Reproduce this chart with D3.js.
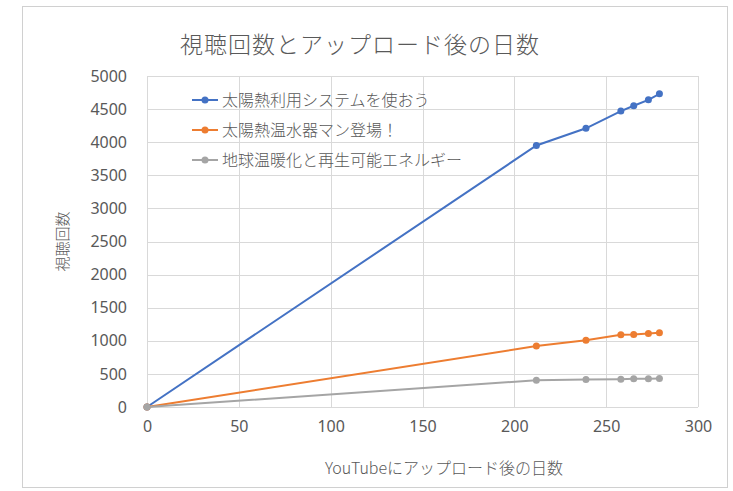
<!DOCTYPE html>
<html>
<head>
<meta charset="utf-8">
<script src="https://cdn.jsdelivr.net/npm/d3@7"></script>
<style>
  body { margin: 0; background: #fff; }
  svg text { font-family: "Noto Sans CJK JP", "Noto Sans", sans-serif; fill: #595959; font-weight: 300; }
</style>
</head>
<body>
<div id="chart"></div>
<script>
// days since upload and view counts
const days = [0, 212, 239, 258, 265, 273, 279];
const solarSystemViews = [0, 3950, 4210, 4470, 4550, 4640, 4730];
const waterHeaterViews = [0, 920, 1010, 1090, 1095, 1110, 1120];
const warmingViews = [0, 405, 415, 420, 425, 425, 430];

const seriesNames = ["太陽熱利用システムを使おう", "太陽熱温水器マン登場！", "地球温暖化と再生可能エネルギー"];
const seriesColors = ["#4472C4", "#ED7D31", "#A5A5A5"];
const xTicks = [0, 50, 100, 150, 200, 250, 300];
const yTicks = [0, 500, 1000, 1500, 2000, 2500, 3000, 3500, 4000, 4500, 5000];

const W = 733, H = 491;
const margin = { top: 76, right: 35, bottom: 84, left: 147 };
const width = W - margin.left - margin.right;
const height = H - margin.top - margin.bottom;

const svg = d3.select("#chart").append("svg")
    .attr("width", W)
    .attr("height", H);

// chart frame
svg.append("rect")
    .attr("x", 22.5).attr("y", 6.5)
    .attr("width", 705).attr("height", 481)
    .attr("fill", "#fff")
    .attr("stroke", "#d0d0d0");

const g = svg.append("g")
    .attr("transform", `translate(${margin.left}, ${margin.top})`);

const x = d3.scaleLinear().domain([0, 300]).range([0, width]);
const y = d3.scaleLinear().domain([0, 5000]).range([height, 0]);

// grid
g.append("g")
    .selectAll("line")
    .data(yTicks)
    .join("line")
    .attr("x1", 0).attr("x2", width)
    .attr("y1", d => Math.round(y(d)) + 0.5)
    .attr("y2", d => Math.round(y(d)) + 0.5)
    .attr("stroke", "#d9d9d9");

g.append("g")
    .selectAll("line")
    .data(xTicks)
    .join("line")
    .attr("y1", 0).attr("y2", height)
    .attr("x1", d => Math.round(x(d)) + 0.5)
    .attr("x2", d => Math.round(x(d)) + 0.5)
    .attr("stroke", "#d9d9d9");

// axes (labels only, lines drawn by the grid)
const xAxis = g.append("g")
    .attr("transform", `translate(0, ${height})`)
    .call(d3.axisBottom(x).tickValues(xTicks).tickFormat(d3.format("d")).tickSize(0).tickPadding(14));
const yAxis = g.append("g")
    .call(d3.axisLeft(y).tickValues(yTicks).tickFormat(d3.format("d")).tickSize(0).tickPadding(20));
[xAxis, yAxis].forEach(a => {
    a.select(".domain").remove();
    a.selectAll("text")
        .style("font-size", "16px")
        .style("font-family", "\"Noto Sans\", sans-serif")
        .style("font-weight", "400")
        .attr("fill", "#595959");
});

// series
const series = [solarSystemViews, waterHeaterViews, warmingViews].map((vals, i) => ({
    name: seriesNames[i],
    color: seriesColors[i],
    values: days.map((d, j) => ({ day: d, views: vals[j] }))
}));

const line = d3.line()
    .x(d => x(d.day))
    .y(d => y(d.views));

// drawn in order, so later series sit on top (like Excel)
series.forEach(s => {
    g.append("path")
        .datum(s.values)
        .attr("fill", "none")
        .attr("stroke", s.color)
        .attr("stroke-width", 2)
        .attr("d", line);
    g.selectAll(null)
        .data(s.values)
        .join("circle")
        .attr("cx", d => x(d.day))
        .attr("cy", d => y(d.views))
        .attr("r", 3.5)
        .attr("fill", s.color);
});

// legend
const legend = g.append("g")
    .attr("transform", "translate(45, 24)");
series.forEach((s, i) => {
    const row = legend.append("g").attr("transform", `translate(0, ${i * 30})`);
    row.append("line")
        .attr("x1", 0).attr("x2", 26)
        .attr("stroke", s.color).attr("stroke-width", 2);
    row.append("circle")
        .attr("cx", 13).attr("r", 3.5).attr("fill", s.color);
    row.append("text")
        .attr("x", 30).attr("dy", "0.35em")
        .style("font-size", "16px")
        .text(s.name);
});

// title and axis labels
svg.append("text")
    .attr("x", 360).attr("y", 53)
    .attr("text-anchor", "middle")
    .style("font-size", "23px")
    .style("letter-spacing", "1px")
    .text("視聴回数とアップロード後の日数");

svg.append("text")
    .attr("transform", `translate(68, ${margin.top + height / 2}) rotate(-90)`)
    .attr("text-anchor", "middle")
    .style("font-size", "15px")
    .text("視聴回数");

svg.append("text")
    .attr("x", 444).attr("y", 474)
    .attr("text-anchor", "middle")
    .style("font-size", "16px")
    .text("YouTubeにアップロード後の日数");
</script>
</body>
</html>
